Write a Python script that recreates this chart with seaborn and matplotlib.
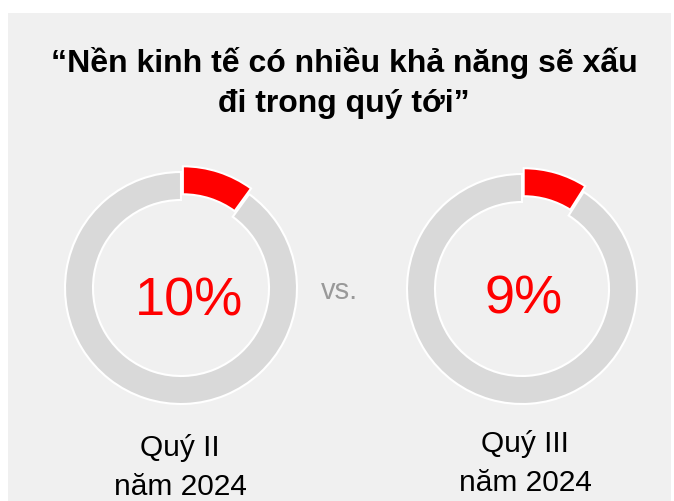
import matplotlib.pyplot as plt
import seaborn as sns
from matplotlib.patches import Rectangle

# Data
title_lines = ['“Nền kinh tế có nhiều khả năng sẽ xấu', 'đi trong quý tới”']
quarters = ['Quý II', 'Quý III']
years = ['năm 2024', 'năm 2024']
shares = [10, 9]

sns.set_style('white')
plt.rcParams['font.family'] = ['Liberation Sans', 'DejaVu Sans']

red = '#ff0000'
grey = '#d9d9d9'
bg = '#f0f0f0'

fig = plt.figure(figsize=(6.74, 5.01), dpi=100)
ax = fig.add_axes([0, 0, 1, 1])

W, H = 674, 501
centers = [(181, H - 288), (522, H - 289)]
radii = [116, 115]
label_x = [180, 525]
label_y = [(456, 495), (452, 491)]
pct_pos = [(189, 315), (524, 313)]

ax.add_patch(Rectangle((8, 0), 663, H - 13, facecolor=bg, edgecolor='none', zorder=0))

for i, share in enumerate(shares):
    ax.pie([share, 100 - share], colors=[red, grey], startangle=90, counterclock=False,
           center=centers[i], radius=radii[i], explode=[6, 0],
           wedgeprops=dict(width=28, edgecolor='white', linewidth=1.5))
    ax.text(pct_pos[i][0], H - pct_pos[i][1], f'{share}%', color=red, fontsize=39,
            ha='center', va='baseline')
    ax.text(label_x[i], H - label_y[i][0], quarters[i], fontsize=21.5,
            ha='center', va='baseline', color='black')
    ax.text(label_x[i], H - label_y[i][1], years[i], fontsize=21.5,
            ha='center', va='baseline', color='black')

ax.text(339, H - 299, 'vs.', color='#999999', fontsize=21, ha='center', va='baseline')
for line, yb in zip(title_lines, [72, 112]):
    ax.text(344, H - yb, line, fontsize=23, fontweight='bold', ha='center',
            va='baseline', color='black')

ax.set_xlim(0, W)
ax.set_ylim(0, H)
ax.set_aspect('auto')
ax.axis('off')

fig.savefig('out.png', dpi=100, facecolor='white')
